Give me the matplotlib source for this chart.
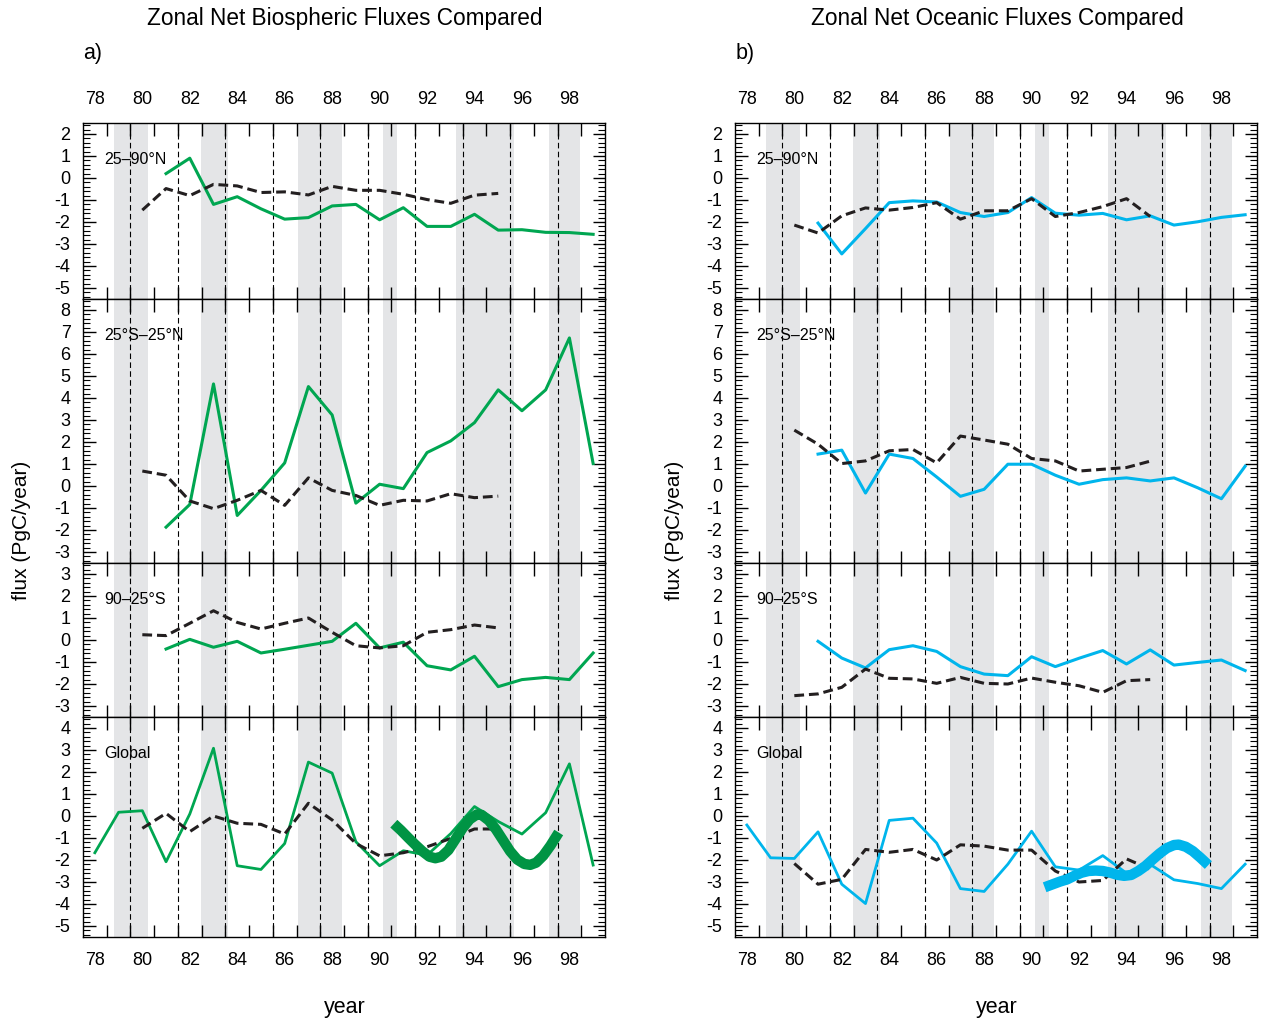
import numpy as np
import matplotlib
matplotlib.use("Agg")
import matplotlib.pyplot as plt
from matplotlib.ticker import MultipleLocator

plt.rcParams['font.family'] = ['Liberation Sans', 'DejaVu Sans']
plt.rcParams['axes.unicode_minus'] = False

# years
yr_obs = list(range(81, 100))
yr_glob = list(range(78, 100))
yr_model = list(range(80, 96))

# a) biospheric fluxes (green = observed inversion, dashed = model)
bio_nh = [0.2, 0.9, -1.2, -0.85, -1.4, -1.87, -1.8, -1.27, -1.2, -1.9, -1.35, -2.2, -2.2, -1.65, -2.37, -2.35, -2.47, -2.48, -2.56]
bio_nh_mod = [-1.46, -0.48, -0.8, -0.29, -0.36, -0.66, -0.63, -0.77, -0.38, -0.56, -0.56, -0.74, -0.98, -1.15, -0.78, -0.7]
bio_tr = [-1.87, -0.84, 4.64, -1.34, -0.2, 1.05, 4.52, 3.23, -0.78, 0.08, -0.12, 1.52, 2.05, 2.88, 4.37, 3.42, 4.37, 6.73, 1.02]
bio_tr_mod = [0.68, 0.49, -0.68, -1.03, -0.65, -0.2, -0.88, 0.37, -0.2, -0.43, -0.88, -0.65, -0.68, -0.35, -0.53, -0.46]
bio_sh = [-0.41, 0.03, -0.33, -0.06, -0.59, -0.42, -0.24, -0.06, 0.76, -0.36, -0.1, -1.17, -1.36, -0.74, -2.12, -1.8, -1.7, -1.8, -0.59]
bio_sh_mod = [0.24, 0.2, 0.76, 1.33, 0.8, 0.5, 0.76, 1.0, 0.35, -0.26, -0.36, -0.26, 0.35, 0.47, 0.68, 0.55]
bio_gl = [-1.67, 0.17, 0.24, -2.08, 0.09, 3.08, -2.26, -2.43, -1.25, 2.45, 1.95, -1.17, -2.26, -1.58, -1.78, -0.8, 0.43, -0.25, -0.82, 0.15, 2.37, -2.23]
bio_gl_mod = [-0.56, 0.12, -0.71, 0.0, -0.33, -0.38, -0.82, 0.58, -0.18, -1.25, -1.81, -1.67, -1.4, -1.02, -0.59, -0.59]
# thick smoothed curve (global)
bio_smooth_x = [90.6, 90.9, 91.2, 91.5, 91.8, 92.1, 92.35, 92.6, 92.9, 93.2, 93.5, 93.8, 94.1, 94.3, 94.6, 94.9, 95.2, 95.5, 95.8, 96.1, 96.35, 96.6, 96.9, 97.2, 97.55]
bio_smooth_y = [-0.35, -0.65, -0.98, -1.3, -1.6, -1.85, -1.92, -1.85, -1.55, -1.05, -0.55, -0.15, 0.07, 0.05, -0.2, -0.6, -1.1, -1.6, -1.98, -2.18, -2.22, -2.12, -1.8, -1.35, -0.75]

# b) oceanic fluxes (cyan = observed inversion, dashed = model)
oc_nh = [-2.05, -3.45, -2.3, -1.12, -1.04, -1.09, -1.57, -1.75, -1.57, -0.89, -1.6, -1.69, -1.61, -1.9, -1.72, -2.14, -1.99, -1.79, -1.67]
oc_nh_mod = [-2.14, -2.5, -1.72, -1.36, -1.46, -1.34, -1.12, -1.87, -1.49, -1.49, -0.94, -1.75, -1.57, -1.3, -0.94, -1.75]
oc_tr = [1.45, 1.63, -0.32, 1.45, 1.25, 0.41, -0.47, -0.15, 0.99, 0.99, 0.49, 0.08, 0.29, 0.37, 0.23, 0.37, -0.08, -0.58, 0.9]
oc_tr_mod = [2.54, 1.9, 1.02, 1.14, 1.6, 1.66, 1.05, 2.27, 2.09, 1.9, 1.25, 1.14, 0.68, 0.76, 0.84, 1.13]
oc_sh = [-0.06, -0.82, -1.27, -0.44, -0.26, -0.52, -1.21, -1.55, -1.62, -0.76, -1.21, -0.83, -0.48, -1.09, -0.45, -1.14, -1.02, -0.91, -1.39]
oc_sh_mod = [-2.53, -2.45, -2.15, -1.32, -1.74, -1.77, -1.97, -1.7, -1.97, -2.0, -1.73, -1.92, -2.08, -2.38, -1.85, -1.8]
oc_gl = [-0.41, -1.9, -1.93, -0.72, -3.1, -3.98, -0.2, -0.1, -1.23, -3.3, -3.43, -2.19, -0.69, -2.31, -2.46, -1.8, -2.6, -2.2, -2.9, -3.07, -3.3, -2.19]
oc_gl_mod = [-2.16, -3.1, -2.88, -1.52, -1.65, -1.52, -2.0, -1.31, -1.37, -1.55, -1.55, -2.5, -3.0, -2.93, -1.95, -2.42]
oc_smooth_x = [90.55, 90.9, 91.2, 91.5, 91.8, 92.1, 92.4, 92.7, 93.0, 93.3, 93.6, 93.9, 94.2, 94.5, 94.8, 95.1, 95.4, 95.7, 96.0, 96.2, 96.5, 96.8, 97.1, 97.45]
oc_smooth_y = [-3.24, -3.1, -2.98, -2.88, -2.72, -2.58, -2.5, -2.48, -2.5, -2.57, -2.67, -2.72, -2.68, -2.5, -2.27, -1.98, -1.7, -1.46, -1.32, -1.3, -1.4, -1.6, -1.88, -2.23]

regions = ["25–90°N", "25°S–25°N", "90–25°S", "Global"]
ylims = [(-5.5, 2.5), (-3.5, 8.5), (-3.5, 3.5), (-5.5, 4.5)]

# shaded periods and dashed year markers
shade = [(78.8, 80.25), (82.47, 83.62), (86.57, 88.42), (90.15, 90.72), (93.22, 95.65), (97.13, 98.45)]
vlines = [79.5, 81.5, 83.5, 85.5, 87.5, 89.5, 91.5, 93.5, 95.5, 97.5]

green = '#00a651'
green_dk = '#009444'
cyan = '#00b5ec'
black = '#231f20'

W, H = 1261, 1019
fig = plt.figure(figsize=(W / 100, H / 100), dpi=100)

top_px, bot_px = 123, 937
ranges = [hi - lo for lo, hi in ylims]
tot = sum(ranges)


def make_column(left_px, right_px, obs, mods, smooth_x, smooth_y, col, col_thick):
    axes = []
    y = top_px
    for i in range(4):
        h = (bot_px - top_px) * ranges[i] / tot
        ax = fig.add_axes([left_px / W, 1 - (y + h) / H, (right_px - left_px) / W, h / H])
        y += h
        for a, b in shade:
            ax.axvspan(a, b, color='#e4e5e7', lw=0, zorder=0)
        for v in vlines:
            ax.axvline(v, color='black', lw=0.8, dashes=(5, 3), zorder=1)
        xo = yr_glob if i == 3 else yr_obs
        ax.plot(xo, obs[i], color=col, lw=2.2 if i < 3 else 2.0, zorder=3)
        ax.plot(yr_model, mods[i], color=black, lw=2.2, dashes=(3.2, 1.6), zorder=4)
        if i == 3:
            ax.plot(smooth_x, smooth_y, color=col_thick, lw=7.5, solid_capstyle='butt', zorder=5)
        ax.set_xlim(77.5, 99.5)
        ax.set_ylim(*ylims[i])
        ax.set_xticks(np.arange(78.5, 99, 1))
        ax.set_xticklabels([])
        ax.set_xticks(range(78, 100, 2), minor=True)
        ax.set_xticklabels([str(v) for v in range(78, 100, 2)], minor=True, fontsize=13)
        ax.tick_params(axis='x', which='major', direction='in', length=9, width=1,
                       top=True, bottom=True)
        ax.tick_params(axis='x', which='minor', length=0, pad=11,
                       labeltop=(i == 0), labelbottom=(i == 3))
        ax.yaxis.set_major_locator(MultipleLocator(1))
        ax.yaxis.set_minor_locator(MultipleLocator(0.2))
        ax.tick_params(axis='y', which='major', direction='in', length=9, width=1,
                       left=True, right=True, labelsize=13, pad=9)
        ax.tick_params(axis='y', which='minor', direction='in', length=5, width=0.8,
                       left=True, right=True)
        ax.set_yticks(range(int(np.ceil(ylims[i][0])), int(np.floor(ylims[i][1])) + 1))
        for s in ax.spines.values():
            s.set_linewidth(1.0)
        ax.annotate(regions[i], xy=(0, 1), xycoords='axes fraction',
                    xytext=(15, -26), textcoords='offset points',
                    ha='left', va='center', fontsize=11.5)
        axes.append(ax)
    return axes


make_column(83, 605, [bio_nh, bio_tr, bio_sh, bio_gl],
            [bio_nh_mod, bio_tr_mod, bio_sh_mod, bio_gl_mod],
            bio_smooth_x, bio_smooth_y, green, green_dk)
make_column(735, 1257, [oc_nh, oc_tr, oc_sh, oc_gl],
            [oc_nh_mod, oc_tr_mod, oc_sh_mod, oc_gl_mod],
            oc_smooth_x, oc_smooth_y, cyan, cyan)

fig.text(345 / W, 1 - 19 / H, "Zonal Net Biospheric Fluxes Compared", ha='center', va='center', fontsize=16.3)
fig.text(997 / W, 1 - 19 / H, "Zonal Net Oceanic Fluxes Compared", ha='center', va='center', fontsize=16.3)
fig.text(83 / W, 1 - 53 / H, "a)", ha='left', va='center', fontsize=15.5)
fig.text(736 / W, 1 - 53 / H, "b)", ha='left', va='center', fontsize=15.5)
fig.text(22 / W, 1 - 530 / H, "flux (PgC/year)", rotation=90, ha='center', va='center', fontsize=15)
fig.text(674 / W, 1 - 530 / H, "flux (PgC/year)", rotation=90, ha='center', va='center', fontsize=15)
fig.text(345 / W, 1 - 1007 / H, "year", ha='center', va='center', fontsize=15.5)
fig.text(997 / W, 1 - 1007 / H, "year", ha='center', va='center', fontsize=15.5)

fig.savefig("out.png", dpi=100)
